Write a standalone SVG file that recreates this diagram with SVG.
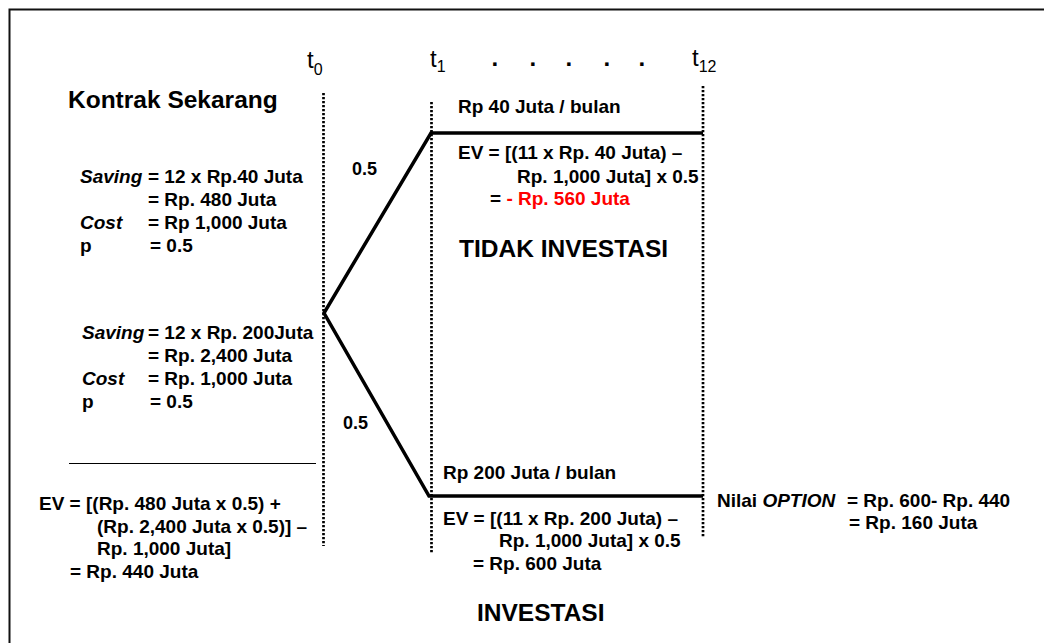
<svg xmlns="http://www.w3.org/2000/svg" width="1044" height="643" viewBox="0 0 1044 643">
<style>
  text { font-family: "Liberation Sans", Arial, sans-serif; fill: #000; }
  .b { font-weight: bold; }
  .s19 { font-size: 19px; font-weight: bold; }
  .big { font-size: 24.5px; font-weight: bold; }
  .it { font-style: italic; }
  .t { font-size: 24px; }
  .sub { font-size: 16px; }
  .dot { fill: none; stroke: #000; stroke-width: 2.7; stroke-dasharray: 2.2 1.8; }
  .branch { fill: none; stroke: #000; stroke-width: 3.5; stroke-linejoin: miter; }
  .red { fill: #ff0000; }
</style>
<rect x="0" y="0" width="1044" height="643" fill="#fff"/>
<rect x="9.5" y="9.5" width="1100" height="700" fill="none" stroke="#111" stroke-width="2"/>

<g id="timeline">
  <text class="t" x="307" y="68">t<tspan class="sub" dy="7">0</tspan></text>
  <text class="t" x="430" y="67">t<tspan class="sub" dy="5">1</tspan></text>
  <text class="t" x="692" y="66">t<tspan class="sub" dy="6">12</tspan></text>
  <text class="b" font-size="24" x="491.5 529.5 565.5 603.5 638.5" y="66">.....</text>
  <line class="dot" x1="323.5" y1="93" x2="323.5" y2="546"/>
  <line class="dot" x1="431.5" y1="102" x2="431.5" y2="554"/>
  <line class="dot" x1="703" y1="86" x2="703" y2="538"/>
</g>

<g id="connectors">
  <polyline class="branch" points="703,133 431,133 324,313 429,496 703,496"/>
  <line x1="69" y1="463.5" x2="316" y2="463.5" stroke="#000" stroke-width="1"/>
</g>

<g id="kontrak">
  <text class="big" x="68" y="108">Kontrak Sekarang</text>
</g>

<g id="skenario-rendah">
  <text class="s19" x="80" y="183"><tspan class="it">Saving</tspan></text>
  <text class="s19" x="148" y="183">= 12 x Rp.40 Juta</text>
  <text class="s19" x="148" y="206">= Rp. 480 Juta</text>
  <text class="s19" x="80" y="229"><tspan class="it">Cost</tspan></text>
  <text class="s19" x="148" y="229">= Rp 1,000 Juta</text>
  <text class="s19" x="80" y="252">p</text>
  <text class="s19" x="150" y="252">= 0.5</text>
</g>

<g id="skenario-tinggi">
  <text class="s19" x="82" y="339"><tspan class="it">Saving</tspan></text>
  <text class="s19" x="148" y="339">= 12 x Rp. 200Juta</text>
  <text class="s19" x="148" y="362">= Rp. 2,400 Juta</text>
  <text class="s19" x="82" y="385"><tspan class="it">Cost</tspan></text>
  <text class="s19" x="148" y="385">= Rp. 1,000 Juta</text>
  <text class="s19" x="82" y="408">p</text>
  <text class="s19" x="150" y="408">= 0.5</text>
</g>

<g id="ev-sekarang">
  <text class="s19" x="39" y="510">EV = [(Rp. 480 Juta x 0.5) +</text>
  <text class="s19" x="97" y="533">(Rp. 2,400 Juta x 0.5)] –</text>
  <text class="s19" x="97" y="555">Rp. 1,000 Juta]</text>
  <text class="s19" x="70" y="578">= Rp. 440 Juta</text>
</g>

<g id="prob-labels">
  <text class="b" font-size="18" x="352" y="175">0.5</text>
  <text class="b" font-size="18" x="343" y="429">0.5</text>
</g>

<g id="tidak-investasi">
  <text class="s19" x="458" y="113">Rp 40 Juta / bulan</text>
  <text class="s19" x="458" y="159">EV = [(11 x Rp. 40 Juta) –</text>
  <text class="s19" x="517" y="183">Rp. 1,000 Juta] x 0.5</text>
  <text class="s19" x="490" y="205">= <tspan class="red">- Rp. 560 Juta</tspan></text>
  <text class="big" x="459" y="257">TIDAK INVESTASI</text>
</g>

<g id="investasi">
  <text class="s19" x="443" y="479">Rp 200 Juta / bulan</text>
  <text class="s19" x="443" y="525">EV = [(11 x Rp. 200 Juta) –</text>
  <text class="s19" x="499" y="547">Rp. 1,000 Juta] x 0.5</text>
  <text class="s19" x="473" y="570">= Rp. 600 Juta</text>
  <text class="big" x="477" y="621">INVESTASI</text>
</g>

<g id="nilai-option">
  <text class="s19" x="717" y="507">Nilai <tspan class="it">OPTION</tspan></text>
  <text class="s19" x="847" y="507">= Rp. 600- Rp. 440</text>
  <text class="s19" x="849" y="529">= Rp. 160 Juta</text>
</g>
</svg>
